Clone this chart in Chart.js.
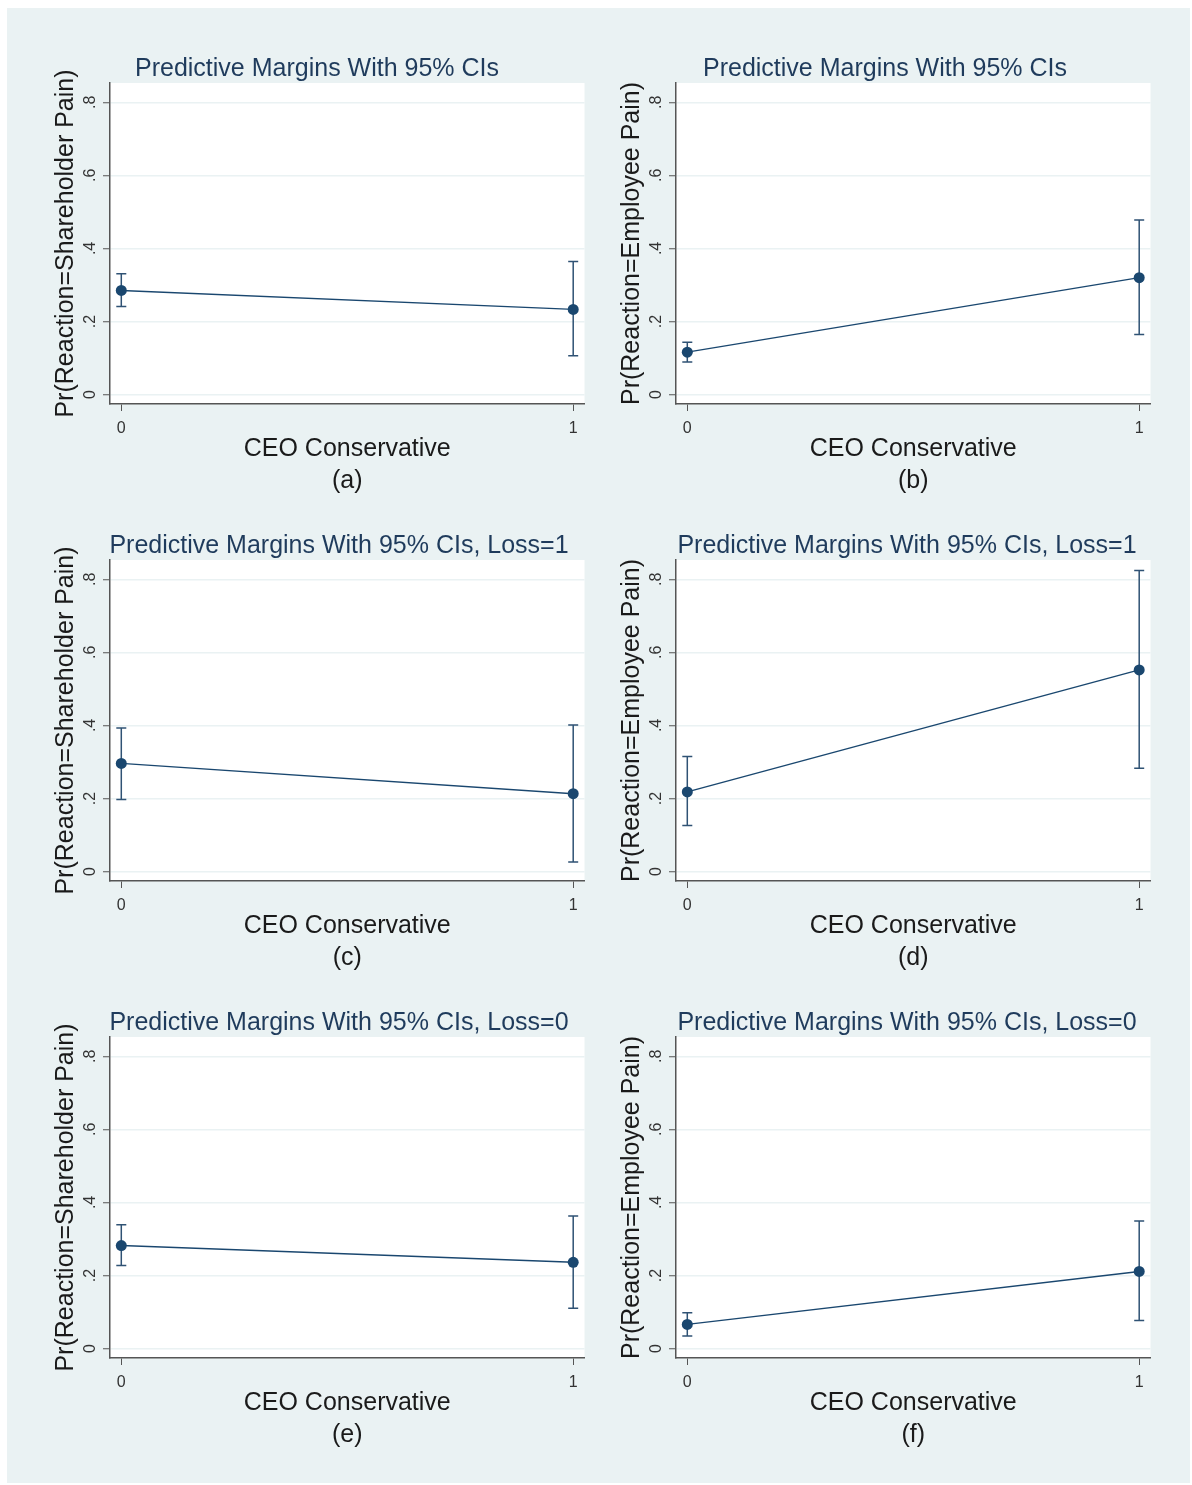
<!DOCTYPE html>
<html>
<head>
<meta charset="utf-8">
<script src="https://cdn.jsdelivr.net/npm/chart.js@4.4.1/dist/chart.umd.min.js"></script>
<style>
  body { margin: 0; background: #ffffff; }
  #frame { position: absolute; left: 7px; top: 8px; width: 1183px; height: 1475px; background: #eaf2f3; }
  canvas { position: absolute; }
</style>
</head>
<body>
<div id="frame"></div>
<canvas id="pa" width="583" height="477" style="left:7px;top:30px"></canvas>
<canvas id="pb" width="583" height="477" style="left:573px;top:30px"></canvas>
<canvas id="pc" width="583" height="477" style="left:7px;top:507px"></canvas>
<canvas id="pd" width="583" height="477" style="left:573px;top:507px"></canvas>
<canvas id="pe" width="583" height="477" style="left:7px;top:984px"></canvas>
<canvas id="pf" width="583" height="477" style="left:573px;top:984px"></canvas>
<script>
// x categories (CEO Conservative = 0 / 1) and y tick values
const xCats = [0, 1];
const yTicks = [0, 0.2, 0.4, 0.6, 0.8];

// (a) shareholder pain, all
const shareMargin = [0.285, 0.233];
const shareLo = [0.241, 0.106];
const shareHi = [0.331, 0.364];
// (b) employee pain, all
const empMargin = [0.116, 0.320];
const empLo = [0.089, 0.164];
const empHi = [0.143, 0.478];
// (c) shareholder pain, Loss=1
const shareLoss1Margin = [0.296, 0.213];
const shareLoss1Lo = [0.197, 0.026];
const shareLoss1Hi = [0.393, 0.401];
// (d) employee pain, Loss=1
const empLoss1Margin = [0.218, 0.552];
const empLoss1Lo = [0.126, 0.283];
const empLoss1Hi = [0.315, 0.824];
// (e) shareholder pain, Loss=0
const shareLoss0Margin = [0.282, 0.236];
const shareLoss0Lo = [0.227, 0.110];
const shareLoss0Hi = [0.339, 0.363];
// (f) employee pain, Loss=0
const empLoss0Margin = [0.066, 0.211];
const empLoss0Lo = [0.034, 0.077];
const empLoss0Hi = [0.098, 0.349];

const titleAll = 'Predictive Margins With 95% CIs';
const titleLoss1 = 'Predictive Margins With 95% CIs, Loss=1';
const titleLoss0 = 'Predictive Margins With 95% CIs, Loss=0';
const yShare = 'Pr(Reaction=Shareholder Pain)';
const yEmp = 'Pr(Reaction=Employee Pain)';
const xTitle = 'CEO Conservative';

const FONT = '"Liberation Sans", Arial, Helvetica, sans-serif';
const NAVY = '#1a476f';
Chart.defaults.font.family = FONT;

// white plot region
const plotBg = {
	id: 'plotBg',
	beforeDraw(chart) {
		const a = chart.chartArea;
		chart.ctx.save();
		chart.ctx.fillStyle = '#ffffff';
		chart.ctx.fillRect(a.left, a.top, a.right - a.left, a.bottom - a.top);
		chart.ctx.restore();
	}
};

// title drawn at a fixed centre like the stata output
const panelTitle = {
	id: 'panelTitle',
	afterDraw(chart, args, opts) {
		const ctx = chart.ctx;
		ctx.save();
		ctx.font = '25px ' + FONT;
		ctx.fillStyle = '#1f3b5c';
		ctx.textAlign = 'center';
		ctx.textBaseline = 'middle';
		ctx.fillText(opts.text, opts.x, opts.y);
		ctx.restore();
	}
};

// capped 95% CI bars
const ciBars = {
	id: 'ciBars',
	beforeDatasetsDraw(chart, args, opts) {
		const ctx = chart.ctx;
		const xs = chart.scales.x, ys = chart.scales.y;
		ctx.save();
		ctx.strokeStyle = '#2f5274';
		ctx.lineWidth = 1.5;
		for (let i = 0; i < xCats.length; i++) {
			const px = xs.getPixelForValue(xCats[i]);
			const pl = ys.getPixelForValue(opts.lo[i]);
			const ph = ys.getPixelForValue(opts.hi[i]);
			ctx.beginPath();
			ctx.moveTo(px, pl); ctx.lineTo(px, ph);
			ctx.moveTo(px - 5, pl); ctx.lineTo(px + 5, pl);
			ctx.moveTo(px - 5, ph); ctx.lineTo(px + 5, ph);
			ctx.stroke();
		}
		ctx.restore();
	}
};

function fmtTick(v) {
	return v === 0 ? '0' : v.toFixed(1).replace(/^0/, '');
}

function makePanel(id, padRight, title, titleX, yTitle, tag, margin, lo, hi) {
	const ctx = document.getElementById(id).getContext('2d');
	new Chart(ctx, {
		type: 'line',
		data: {
			datasets: [{
				data: xCats.map((x, i) => ({x: x, y: margin[i]})),
				borderColor: NAVY,
				borderWidth: 1.4,
				pointRadius: 5.5,
				pointBorderWidth: 0,
				pointBackgroundColor: NAVY,
				tension: 0
			}]
		},
		options: {
			responsive: false,
			animation: false,
			layout: { padding: { left: 0, top: 53, right: padRight, bottom: 0 } },
			plugins: {
				legend: { display: false },
				tooltip: { enabled: false },
				panelTitle: { text: title, x: titleX, y: 39 },
				ciBars: { lo: lo, hi: hi }
			},
			scales: {
				x: {
					type: 'linear',
					min: -0.025,
					max: 1.025,
					afterBuildTicks: s => { s.ticks = xCats.map(v => ({value: v})); },
					afterFit: s => { s.height = 103; },
					ticks: { font: { size: 16 }, color: '#333333', padding: 8, callback: v => String(v) },
					grid: { drawOnChartArea: false, tickLength: 7, tickColor: '#555555', tickWidth: 1 },
					border: { color: '#555555', width: 1.5 },
					title: {
						display: true,
						text: [xTitle, tag],
						color: '#1a1a1a',
						font: { size: 25, lineHeight: 1.28 },
						padding: { top: 0, bottom: 10 }
					}
				},
				y: {
					min: -0.026,
					max: 0.853,
					afterBuildTicks: s => { s.ticks = yTicks.map(v => ({value: v})); },
					afterFit: s => { s.width = 103; },
					ticks: {
						minRotation: 90, maxRotation: 90, crossAlign: 'center',
						font: { size: 16 }, color: '#333333', padding: 6,
						callback: v => fmtTick(v)
					},
					grid: { color: '#eaf2f3', lineWidth: 1.5, tickLength: 7, tickColor: '#555555', tickWidth: 1 },
					border: { color: '#555555', width: 1.5 },
					title: {
						display: true,
						text: yTitle,
						color: '#1a1a1a',
						font: { size: 25, lineHeight: 1.2 },
						padding: { top: 44, bottom: 0 }
					}
				}
			}
		},
		plugins: [plotBg, panelTitle, ciBars]
	});
}

makePanel('pa', 5, titleAll, 310, yShare, '(a)', shareMargin, shareLo, shareHi);
makePanel('pb', 3, titleAll, 312, yEmp, '(b)', empMargin, empLo, empHi);
makePanel('pc', 5, titleLoss1, 332, yShare, '(c)', shareLoss1Margin, shareLoss1Lo, shareLoss1Hi);
makePanel('pd', 3, titleLoss1, 334, yEmp, '(d)', empLoss1Margin, empLoss1Lo, empLoss1Hi);
makePanel('pe', 5, titleLoss0, 332, yShare, '(e)', shareLoss0Margin, shareLoss0Lo, shareLoss0Hi);
makePanel('pf', 3, titleLoss0, 334, yEmp, '(f)', empLoss0Margin, empLoss0Lo, empLoss0Hi);
</script>
</body>
</html>
